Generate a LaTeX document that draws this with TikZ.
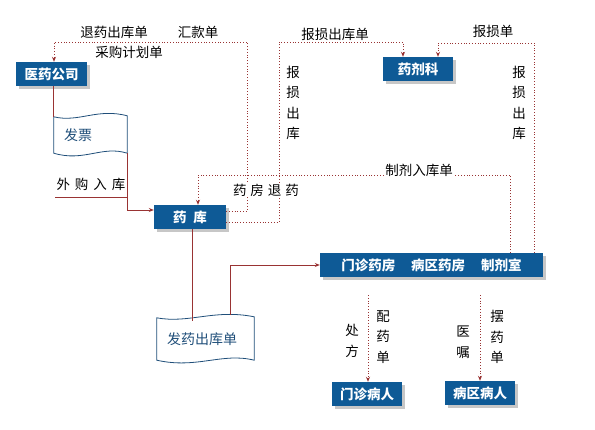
\documentclass[tikz,border=0pt]{standalone}
\usepackage{fontspec}
\setmainfont{Noto Sans CJK SC}
\usepackage{tikz}
\usetikzlibrary{arrows.meta, shadows}

\definecolor{boxblue}{HTML}{0E5A96}
\definecolor{linered}{HTML}{993333}
\definecolor{docblue}{HTML}{1F4E79}

\begin{document}
\begin{tikzpicture}[
  x=1pt, y=-1pt,
  font=\fontsize{12}{14}\selectfont,
  unit/.style={fill=boxblue, text=white, font=\fontsize{13.5}{15}\selectfont\bfseries,
               minimum height=24pt, inner sep=0pt,
               drop shadow={shadow xshift=2.5pt, shadow yshift=-2.5pt, fill=black!22, opacity=1}},
  doc/.style={text=docblue, font=\fontsize{14}{16}\selectfont, align=left,
              inner xsep=10pt, inner ysep=0pt, minimum height=36pt},
  docline/.style={draw=docblue, line width=0.8pt},
  lbl/.style={inner sep=1pt, font=\fontsize{13.5}{20.5}\selectfont},
  vlbl/.style={lbl, align=center},
  sline/.style={draw=linered, line width=0.9pt},
  sarrow/.style={sline, -{Stealth[length=5pt,width=4pt]}},
  darrow/.style={draw=linered, line width=0.8pt, dotted, -{Stealth[length=5pt,width=4pt]}}
]
\useasboundingbox (0,0) rectangle (595,429);

% units
\node[unit, minimum width=71pt] (yygs) at (51.5,74) {医药公司};
\node[unit, minimum width=70pt] (yjk) at (418,69) {药剂科};
\node[unit, minimum width=72pt] (yk) at (190,217) {药\hspace{7pt}库};
\node[unit, minimum width=223pt] (yf) at (431.5,265) {门诊药房\hspace{16pt}病区药房\hspace{16pt}制剂室};
\node[unit, minimum width=70pt] (mzbr) at (367,394) {门诊病人};
\node[unit, minimum width=70pt] (bqbr) at (480,393) {病区病人};

% documents
\node[doc, text width=53pt] (fp) at (90.5,135) {发票};
\node[doc, text width=77pt, minimum height=42pt] (fy) at (205.5,339) {发药出库单};
\foreach \d/\a/\b in {fp/25/30, fy/32/40}
  \draw[docline] (\d.north west) .. controls +(\a,6) and +(-\b,-8) .. ([yshift=1pt]\d.north east)
    -- (\d.south east) .. controls +(-\a,-8) and +(\b,9) .. (\d.south west) -- cycle;

% labels
\node[lbl] (ty) at (114,32) {退药出库单};
\node[lbl] (hk) at (198,32) {汇款单};
\node[lbl] (cg) at (129,52) {采购计划单};
\node[lbl] (bsc) at (335,34) {报损出库单};
\node[lbl] (bsd) at (493,31) {报损单};
\node[vlbl] (bs1) at (293,103) {报\\损\\出\\库};
\node[vlbl] (bs2) at (519,103) {报\\损\\出\\库};
\node[lbl] (wg) at (91,184) {外\hspace{5pt}购\hspace{5pt}入\hspace{5pt}库};
\node[vlbl] (cf) at (352,341) {处\\方};
\node[vlbl] (pyd) at (383,337) {配\\药\\单};
\node[vlbl] (yz) at (463,342) {医\\嘱};
\node[vlbl] (byd) at (497,337) {摆\\药\\单};

% solid flows
\coordinate (wgs) at (55,197);
\coordinate (f1) at (192,321);
\coordinate (f2) at (230,315);
\draw[sline] (fp.north west |- yygs.south) -- (fp.north west);
\draw[sarrow] (fp.south east) |- ([yshift=7pt]yk.west);
\draw[sline] (wgs) -- (wgs -| fp.south east);
\draw[sline] (yk.south -| f1) -- (f1);
\draw[sarrow] (f2) |- (yf.west);

% dotted flows
\coordinate (c1) at (247,42);
\coordinate (c2) at (279,42);
\coordinate (c3) at (198,175);
\coordinate (c4) at (438,43);
\coordinate (p1) at (368,295);
\coordinate (p2) at (480,295);
\draw[darrow] ([yshift=6pt]yk.east) -| (c1) -| ([xshift=2.5pt]yygs.north);
\draw[darrow] ([yshift=-5pt]yk.east) -| (c2) -| ([xshift=-15pt]yjk.north);
\draw[darrow] ([xshift=78.5pt]yf.north) |- (c3) -- (c3 |- yk.north);
\draw[darrow] ([xshift=103pt]yf.north) |- (c4) -- (c4 |- yjk.north);
\draw[darrow] (p1) -- (p1 |- mzbr.north);
\draw[darrow] (p2) -- (p2 |- bqbr.north);

% labels over lines
\node[lbl, fill=white] (zj) at (419,170) {制剂入库单};
\node[lbl, fill=white] (yt) at (266,190) {药\hspace{4pt}房\hspace{4pt}退\hspace{4pt}药};
\end{tikzpicture}
\end{document}
